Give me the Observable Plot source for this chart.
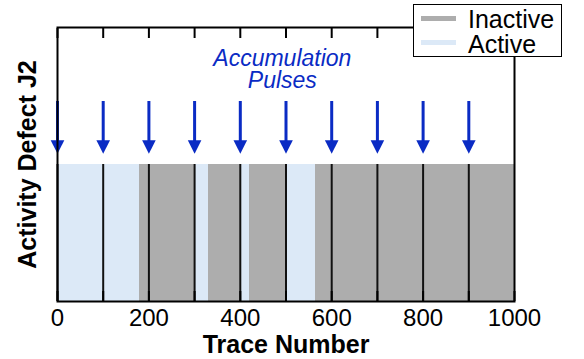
<!DOCTYPE html>
<html>
<head>
<meta charset="utf-8">
<script src="https://cdn.jsdelivr.net/npm/d3@7"></script>
<script src="https://cdn.jsdelivr.net/npm/@observablehq/plot@0.6"></script>
<style>
  body { margin: 0; background: #fff; }
  #wrap { position: relative; width: 584px; height: 359px; font-family: "Liberation Sans", Arial, Helvetica, sans-serif; }
  .legend { position: absolute; left: 413px; top: 4px; width: 147px; height: 51px; border: 1.5px solid #000; background: #fff; }
  .legend .sw { position: absolute; left: 6.5px; width: 35px; height: 5px; }
  .legend .lab { position: absolute; left: 54px; font-size: 25px; line-height: 22px; color: #000; white-space: nowrap; }
</style>
</head>
<body>
<div id="wrap"></div>
<script>
// Accumulation pulses, one every 100 traces
const pulseTraces = [0, 100, 200, 300, 400, 500, 600, 700, 800, 900];

// State of defect J2 between trace numbers
const segStart = [0, 180, 300, 331, 400, 420, 500, 564];
const segEnd   = [180, 300, 331, 400, 420, 500, 564, 1000];
const segState = ["Active", "Inactive", "Active", "Inactive", "Active", "Inactive", "Active", "Inactive"];

const stateNames = ["Inactive", "Active"];
const stateColors = ["#adadad", "#dce9f7"];

const barLevel = 0.5;     // height of the activity band
const arrowTop = 0.73;    // start of each pulse arrow
const arrowTip = 0.539;   // tip of each pulse arrow

const labelTicks = [0, 200, 400, 600, 800, 1000];
const minorTicks = [0, 100, 200, 300, 400, 500, 600, 700, 800, 900, 1000];

const annotation = "Accumulation\nPulses";
const annX = 492;
const annY = 0.845;

const pulseBlue = "#0a2bc4";

const segments = segStart.map((s, i) => ({start: s, end: segEnd[i], state: segState[i]}));

// filled, downward-pointing arrow head with its tip at the origin
const downHead = {
  draw(ctx) {
    ctx.moveTo(0, 0);
    ctx.lineTo(-6.8, -13.5);
    ctx.lineTo(6.8, -13.5);
    ctx.closePath();
  }
};

const chart = Plot.plot({
  width: 584,
  height: 359,
  marginLeft: 57,
  marginRight: 70,
  marginTop: 27,
  marginBottom: 58,
  style: {fontFamily: "'Liberation Sans', Arial, Helvetica, sans-serif", fontSize: "24px", color: "#000", background: "#fff"},
  x: {domain: [0, 1000], axis: null, label: null},
  y: {domain: [0, 1], axis: null, label: null},
  color: {domain: stateNames, range: stateColors},
  marks: [
    Plot.rectY(segments, {x1: "start", x2: "end", y1: 0, y2: barLevel, fill: "state", shapeRendering: "crispEdges"}),
    Plot.ruleX(pulseTraces, {x: d => d, y1: 0, y2: barLevel, stroke: "#111", strokeWidth: 2}),
    Plot.ruleX(pulseTraces, {x: d => d, y1: arrowTop, y2: arrowTip, insetBottom: 8, stroke: pulseBlue, strokeWidth: 3}),
    Plot.dot(pulseTraces, {x: d => d, y: arrowTip, symbol: downHead, fill: pulseBlue, stroke: null, r: 5}),
    Plot.text([annotation], {x: annX, y: annY, text: d => d, fontStyle: "italic", fontSize: 23, lineHeight: 0.94, fill: pulseBlue}),
    Plot.axisX({anchor: "bottom", ticks: minorTicks, tickSize: -10, strokeWidth: 2, tickFormat: () => "", label: null}),
    Plot.axisX({anchor: "top", ticks: minorTicks, tickSize: -10, strokeWidth: 2, tickFormat: () => "", label: null}),
    Plot.axisX({anchor: "bottom", ticks: labelTicks, tickSize: 0, tickPadding: 7, fontSize: 24, tickFormat: d3.format("d"), label: null}),
    Plot.frame({stroke: "#000", strokeWidth: 2}),
    Plot.text(["Trace Number"], {frameAnchor: "bottom", dy: 43, lineAnchor: "middle", textAnchor: "middle", text: d => d, fontWeight: "bold", fontSize: 25}),
    Plot.text(["Activity Defect J2"], {frameAnchor: "left", dx: -30, rotate: -90, lineAnchor: "middle", textAnchor: "middle", text: d => d, fontWeight: "bold", fontSize: 25})
  ]
});

const wrap = document.getElementById("wrap");
wrap.appendChild(chart);

// legend box in the top-right corner
const legend = document.createElement("div");
legend.className = "legend";
const rows = [
  {name: stateNames[0], color: stateColors[0], sw: 11, lab: 2.9},
  {name: stateNames[1], color: stateColors[1], sw: 34.7, lab: 27.5}
];
for (const r of rows) {
  const sw = document.createElement("div");
  sw.className = "sw";
  sw.style.top = r.sw + "px";
  sw.style.background = r.color;
  const lab = document.createElement("span");
  lab.className = "lab";
  lab.style.top = r.lab + "px";
  lab.textContent = r.name;
  legend.appendChild(sw);
  legend.appendChild(lab);
}
wrap.appendChild(legend);
</script>
</body>
</html>
